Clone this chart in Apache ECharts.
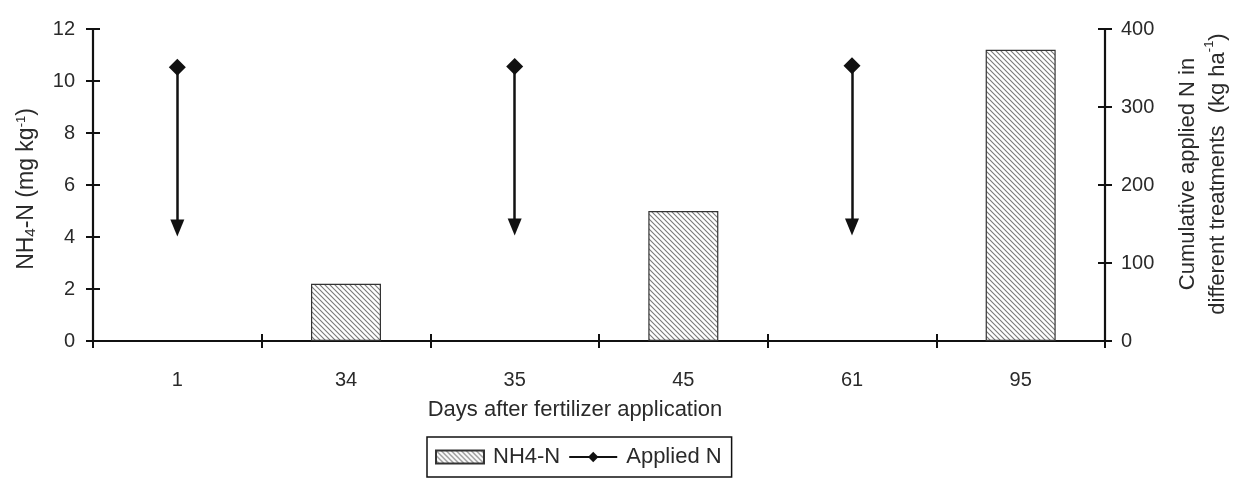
<!DOCTYPE html>
<html>
<head>
<meta charset="utf-8">
<script src="https://cdn.jsdelivr.net/npm/echarts@6/dist/echarts.min.js"></script>
<style>
html,body{margin:0;padding:0;background:#fff;}
#chart{width:1233px;height:479px;}
</style>
</head>
<body>
<div id="chart"></div>
<script>
// ---- data ----
const categories = ['1', '34', '35', '45', '61', '95'];
const nh4Values = [null, 2.2, null, 5.0, null, 11.2];          // NH4-N (mg kg-1), left axis
const appliedNValues = [351, null, 352, null, 353, null];        // cumulative applied N (kg ha-1), right axis
const arrowEndValues = [145, null, 146, null, 146, null];        // arrow tips (right axis)
const leftTicks = { min: 0, max: 12, interval: 2 };
const rightTicks = { min: 0, max: 400, interval: 100 };

// ---- hatch pattern ----
function hatch() {
  const c = document.createElement('canvas');
  const s = 5;
  c.width = s; c.height = s;
  const g = c.getContext('2d');
  g.fillStyle = '#ffffff';
  g.fillRect(0, 0, s, s);
  g.strokeStyle = '#7a7a7a';
  g.lineWidth = 1.1;
  g.beginPath();
  g.moveTo(-1, -1); g.lineTo(s + 1, s + 1);
  g.moveTo(-1, s - 1); g.lineTo(1, s + 1);
  g.moveTo(s - 1, -1); g.lineTo(s + 1, 1);
  g.stroke();
  return c;
}

const FONT = "'Liberation Sans', Arial, sans-serif";
const TXT = '#2a2a2a';
const axisLine = { show: true, lineStyle: { color: '#111', width: 2.2 } };
const tickOut = { show: true, length: 7, lineStyle: { color: '#111', width: 2 } };
const tickIn = { show: true, inside: true, length: 7, lineStyle: { color: '#111', width: 2 } };

const markData = [];
categories.forEach((c, i) => {
  if (appliedNValues[i] != null && arrowEndValues[i] != null) {
    markData.push([{ xAxis: c, yAxis: appliedNValues[i] }, { xAxis: c, yAxis: arrowEndValues[i] }]);
  }
});

const chart = echarts.init(document.getElementById('chart'), null, { renderer: 'canvas' });
chart.setOption({
  animation: false,
  backgroundColor: '#ffffff',
  textStyle: { fontFamily: FONT, color: TXT },
  grid: { left: 93, right: 128, top: 29, bottom: 138, containLabel: false, outerBoundsMode: 'none' },
  legend: {
    left: 427, top: 437,
    padding: [9, 10, 9, 8],
    borderColor: '#111', borderWidth: 1.5,
    itemWidth: 48, itemHeight: 13, itemGap: 8,
    textStyle: { fontFamily: FONT, fontSize: 22, color: TXT, padding: [0, 0, 0, 4] },
    data: [{ name: 'NH4-N', icon: 'rect' }, { name: 'Applied N' }]
  },
  xAxis: [
    {
      type: 'category', data: categories, position: 'bottom',
      axisLine: axisLine, axisTick: tickOut,
      axisLabel: { fontFamily: FONT, fontSize: 20, color: TXT, margin: 29 },
      name: 'Days after fertilizer application', nameLocation: 'middle', nameGap: 58,
      nameTextStyle: { fontFamily: FONT, fontSize: 22, color: TXT, padding: [0, 48, 0, 0] }
    },
    {
      type: 'category', data: categories, position: 'bottom',
      axisLine: { show: false }, axisTick: tickIn, axisLabel: { show: false }
    }
  ],
  yAxis: [
    {
      type: 'value', position: 'left', min: leftTicks.min, max: leftTicks.max, interval: leftTicks.interval,
      axisLine: axisLine, axisTick: tickOut, splitLine: { show: false },
      axisLabel: { fontFamily: FONT, fontSize: 20, color: TXT, margin: 18 },
      name: 'NH{sub|4}-N (mg kg{sup|-1})', nameLocation: 'middle', nameGap: 55, nameRotate: 90,
      nameTextStyle: {
        fontFamily: FONT, fontSize: 23, color: TXT, padding: [0, 8, 0, 0],
        rich: {
          sub: { fontFamily: FONT, fontSize: 15, color: TXT, verticalAlign: 'bottom', padding: [7, 0, 0, 0] },
          sup: { fontFamily: FONT, fontSize: 13, color: TXT, verticalAlign: 'top', padding: [0, 0, 10, 0] }
        }
      }
    },
    {
      type: 'value', position: 'right', min: rightTicks.min, max: rightTicks.max, interval: rightTicks.interval,
      axisLine: axisLine, axisTick: tickOut, splitLine: { show: false },
      axisLabel: { fontFamily: FONT, fontSize: 20, color: TXT, margin: 16 },
      name: 'Cumulative applied N in\ndifferent treatments  (kg ha{sup|-1})',
      nameLocation: 'middle', nameGap: 68, nameRotate: 90,
      nameTextStyle: {
        fontFamily: FONT, fontSize: 22, color: TXT, lineHeight: 30, padding: [0, 0, 0, 22],
        rich: {
          sup: { fontFamily: FONT, fontSize: 13, color: TXT, verticalAlign: 'top', padding: [0, 0, 10, 0] }
        }
      }
    },
    {
      type: 'value', position: 'left', min: leftTicks.min, max: leftTicks.max, interval: leftTicks.interval,
      axisLine: { show: false }, axisTick: tickIn, axisLabel: { show: false }, splitLine: { show: false }
    },
    {
      type: 'value', position: 'right', min: rightTicks.min, max: rightTicks.max, interval: rightTicks.interval,
      axisLine: { show: false }, axisTick: tickIn, axisLabel: { show: false }, splitLine: { show: false }
    }
  ],
  series: [
    {
      name: 'NH4-N', type: 'bar', xAxisIndex: 0, yAxisIndex: 0,
      data: nh4Values, barWidth: 70,
      itemStyle: { color: { image: hatch(), repeat: 'repeat' }, borderColor: '#333', borderWidth: 1.2 }
    },
    {
      name: 'Applied N', type: 'line', xAxisIndex: 0, yAxisIndex: 1,
      data: appliedNValues, connectNulls: false,
      symbol: 'diamond', symbolSize: 17,
      itemStyle: { color: '#111' },
      lineStyle: { color: '#111', width: 2 },
      markLine: {
        silent: true,
        symbol: ['none', 'triangle'],
        symbolSize: [14, 17],
        label: { show: false },
        lineStyle: { color: '#111', width: 2.5, type: 'solid' },
        data: markData
      }
    }
  ]
});
</script>
</body>
</html>
